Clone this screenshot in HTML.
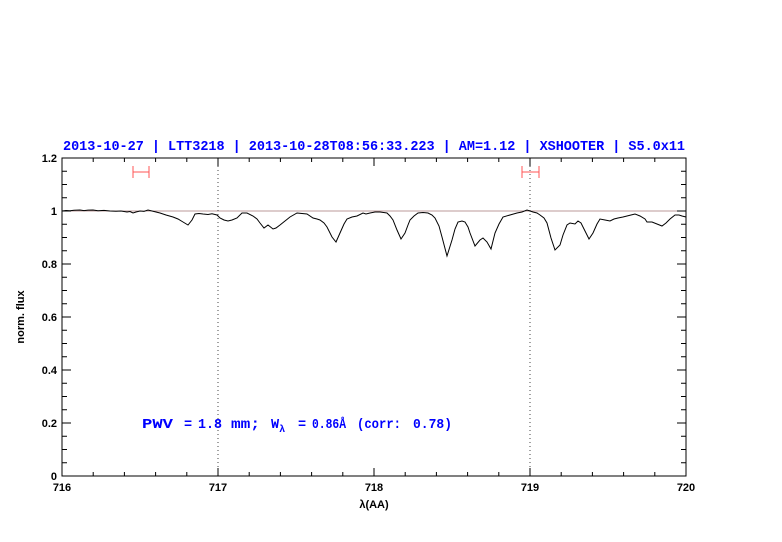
<!DOCTYPE html>
<html><head><style>body{margin:0;background:#fff}svg{display:block}.s{font-family:"Liberation Sans",sans-serif}.m{font-family:"Liberation Mono",monospace;white-space:pre}</style></head><body>
<svg width="782" height="542" xmlns="http://www.w3.org/2000/svg">
<text class="m" x="374" y="150" font-size="13.5" fill="#0000ff" text-anchor="middle" font-weight="bold" textLength="622">2013-10-27 | LTT3218 | 2013-10-28T08:56:33.223 | AM=1.12 | XSHOOTER | S5.0x11</text>
<line x1="62" y1="211" x2="686" y2="211" stroke="#b99" stroke-width="1"/>
<line x1="218" y1="158" x2="218" y2="476" stroke="#444" stroke-dasharray="1,3"/>
<line x1="530" y1="158" x2="530" y2="476" stroke="#444" stroke-dasharray="1,3"/>
<g stroke="#f55" stroke-width="1"><line x1="133" y1="172" x2="149" y2="172"/><line x1="133" y1="166" x2="133" y2="178"/><line x1="149" y1="166" x2="149" y2="178"/>
<line x1="522" y1="172" x2="539" y2="172"/><line x1="522" y1="166" x2="522" y2="178"/><line x1="539" y1="166" x2="539" y2="178"/></g>
<polyline fill="none" stroke="#000" stroke-width="1" points="62,211 66,210.5 70,210.8 74,210.2 80,210 84,210.6 88,210.1 93,210 98,210.8 104,210.4 110,211 116,211.3 121,211 127,212 130,211.5 133,213 136,212 140,211 144,211.4 148,210 152,211 156,212 160,213 166,215 173,217 178,219 183,222 188,225 192,220 195,214 199,213.5 203,214 208,214.5 212,213.8 217,215 220,218 224,220 228,221 232,220 237,218 242,213 247,213 253,216 257,219 260,223 264,228 268,225 273,229 276,228 280,225 285,221 290,217 297,213 302,213.5 307,214 313,218 317,219 320,220 324,223 327,227 332,237 336,242 340,233 344,224 347,219 352,217 357,216 363,213 366,214 370,213 375,212 380,212 387,213 390,216 393,220 397,230 401,239 405,233 408,225 410,220 414,216 418,213 423,212.5 428,213 432,215 435,218 439,226 442,237 447,256 452,240 455,229 458,222 462,221 465,222 468,227 470,233 475,246 480,240 483,238 487,242 491,249 495,233 499,224 503,217 510,215 517,213 522,212 527,210 530,211 533,212 537,213 540,215 544,218 547,223 551,238 555,250 560,245 563,235 567,225 570,223 575,224 578,221 581,223 583,227 589,239 593,233 597,224 600,219 605,220 610,221 614,219 618,218 623,217 627,216 631,215 635,214 640,216 645,219 647,222 652,222 657,224 662,226 666,223 670,219 675,215 679,215 682,216 686,217"/>
<rect x="62" y="158" width="624" height="318" fill="none" stroke="#000" stroke-width="1"/>
<g stroke="#000" stroke-width="1">
<path d="M93.2,476v-4M124.4,476v-4M155.6,476v-4M186.8,476v-4M249.2,476v-4M280.4,476v-4M311.6,476v-4M342.8,476v-4M405.2,476v-4M436.4,476v-4M467.6,476v-4M498.8,476v-4M561.2,476v-4M592.4,476v-4M623.6,476v-4M654.8,476v-4M218,476v-8M374,476v-8M530,476v-8"/>
<path d="M93.2,158v4M124.4,158v4M155.6,158v4M186.8,158v4M249.2,158v4M280.4,158v4M311.6,158v4M342.8,158v4M405.2,158v4M436.4,158v4M467.6,158v4M498.8,158v4M561.2,158v4M592.4,158v4M623.6,158v4M654.8,158v4M218,158v8M374,158v8M530,158v8"/>
<path d="M62,462.75h5M62,449.5h5M62,436.25h5M62,409.75h5M62,396.5h5M62,383.25h5M62,356.75h5M62,343.5h5M62,330.25h5M62,303.75h5M62,290.5h5M62,277.25h5M62,250.75h5M62,237.5h5M62,224.25h5M62,197.75h5M62,184.5h5M62,171.25h5M62,423h9M62,370h9M62,317h9M62,264h9M62,211h9"/>
<path d="M686,462.75h-5M686,449.5h-5M686,436.25h-5M686,409.75h-5M686,396.5h-5M686,383.25h-5M686,356.75h-5M686,343.5h-5M686,330.25h-5M686,303.75h-5M686,290.5h-5M686,277.25h-5M686,250.75h-5M686,237.5h-5M686,224.25h-5M686,197.75h-5M686,184.5h-5M686,171.25h-5M686,423h-9M686,370h-9M686,317h-9M686,264h-9M686,211h-9"/>
</g>
<g class="s" font-size="11" font-weight="bold" fill="#000">
<text x="62" y="491" text-anchor="middle">716</text><text x="218" y="491" text-anchor="middle">717</text><text x="374" y="491" text-anchor="middle">718</text><text x="530" y="491" text-anchor="middle">719</text><text x="686" y="491" text-anchor="middle">720</text>
<g text-anchor="end"><text x="57" y="480">0</text><text x="57" y="427">0.2</text><text x="57" y="374">0.4</text><text x="57" y="321">0.6</text><text x="57" y="268">0.8</text><text x="57" y="215">1</text><text x="57" y="162">1.2</text></g>
<text x="374" y="508" text-anchor="middle">λ(AA)</text>
<text transform="translate(24,317) rotate(-90)" text-anchor="middle">norm. flux</text>
</g>
<g class="m" font-size="13.5" font-weight="bold" fill="#0000ff">
<text x="142" y="428" textLength="31" lengthAdjust="spacingAndGlyphs">PWV</text>
<text x="184" y="428">=</text>
<text x="198" y="428" textLength="24" lengthAdjust="spacingAndGlyphs">1.8</text>
<text x="231" y="428" textLength="29" lengthAdjust="spacingAndGlyphs">mm;</text>
<text x="271" y="428">W<tspan font-size="10" dy="4">λ</tspan></text>
<text x="298" y="428">=</text>
<text x="312" y="428" textLength="34" lengthAdjust="spacingAndGlyphs">0.86Å</text>
<text x="357" y="428" textLength="44" lengthAdjust="spacingAndGlyphs">(corr:</text>
<text x="413" y="428" textLength="39" lengthAdjust="spacingAndGlyphs">0.78)</text>
</g>
</svg>
</body></html>
